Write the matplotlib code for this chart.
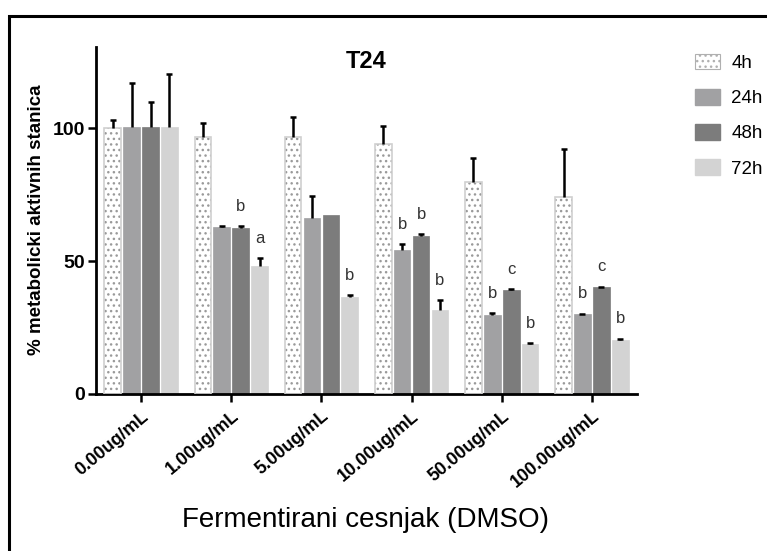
import matplotlib
matplotlib.use("Agg")
import matplotlib.pyplot as plt
from matplotlib.patches import Rectangle, Patch
import numpy as np

plt.rcParams["font.family"] = ["Liberation Sans", "DejaVu Sans"]
plt.rcParams["hatch.linewidth"] = 1.0

groups = ["0.00ug/mL", "1.00ug/mL", "5.00ug/mL", "10.00ug/mL", "50.00ug/mL", "100.00ug/mL"]
series = ["4h", "24h", "48h", "72h"]

h4 = [100.0, 96.5, 96.5, 94.2, 79.8, 74.1]
h4_err = [3.0, 5.5, 7.5, 6.5, 8.8, 18.0]
h24 = [100.5, 62.9, 66.3, 54.1, 29.7, 29.9]
h24_err = [16.5, 0.3, 8.1, 2.3, 0.6, 0.3]
h48 = [100.5, 62.5, 67.5, 59.4, 39.1, 40.1]
h48_err = [9.5, 0.5, 0.0, 0.6, 0.3, 0.2]
h72 = [100.5, 48.2, 36.3, 31.6, 18.7, 20.3]
h72_err = [20.0, 2.8, 0.9, 3.7, 0.3, 0.4]

letters4 = ["", "", "", "", "", ""]
letters24 = ["", "", "", "b", "b", "b"]
letters48 = ["", "b", "", "b", "c", "c"]
letters72 = ["", "a", "b", "b", "b", "b"]

values = [h4, h24, h48, h72]
errors = [h4_err, h24_err, h48_err, h72_err]
letters = [letters4, letters24, letters48, letters72]
colors = ["white", "#a1a1a3", "#7c7c7c", "#d3d3d3"]

fig = plt.figure(figsize=(7.67, 5.51), dpi=100)
ax = fig.add_axes([96 / 767, 157 / 551, 541 / 767, 347 / 551])

x = np.arange(len(groups))
pitch = 0.21
width = 0.185
offsets = (np.arange(len(series)) - 1.5) * pitch

for i, name in enumerate(series):
    xs = x + offsets[i]
    if i == 0:
        ax.bar(xs, values[i], width, color="white", edgecolor="#9a9a9a",
               hatch="...", linewidth=0, zorder=2)
        ax.bar(xs, values[i], width, color="none", edgecolor="#d0d0d0",
               linewidth=1.2, zorder=3)
    else:
        ax.bar(xs, values[i], width, color=colors[i], edgecolor=colors[i],
               linewidth=0.5, zorder=2)
    err = np.array(errors[i])
    keep = err > 0
    eb = ax.errorbar(xs[keep], np.array(values[i])[keep],
                     yerr=[np.zeros(keep.sum()), err[keep]],
                     fmt="none", ecolor="black", elinewidth=1.8,
                     capsize=2.5, capthick=1.8, zorder=4)
    eb[1][0].set_visible(False)
    for j, lab in enumerate(letters[i]):
        if lab:
            ax.annotate(lab, (xs[j], values[i][j] + errors[i][j]),
                        xytext=(0, 9), textcoords="offset points",
                        ha="center", va="bottom", fontsize=12, color="#333333")

ax.set_xlim(-0.5, len(groups) - 0.5)
ax.set_ylim(0, 130.5)
ax.set_yticks([0, 50, 100])
ax.set_xticks(x)
ax.set_xticklabels(groups, rotation=40, ha="right", rotation_mode="anchor",
                   fontsize=13, fontweight="bold")
for lab in ax.get_yticklabels():
    lab.set_fontweight("bold")
    lab.set_fontsize(14)
ax.tick_params(axis="both", length=6, width=1.8, pad=2)
ax.tick_params(axis="x", pad=4)
for s in ["top", "right"]:
    ax.spines[s].set_visible(False)
for s in ["left", "bottom"]:
    ax.spines[s].set_linewidth(2)

ax.text(np.mean(ax.get_xlim()), 125, "T24", ha="center", va="center",
        fontsize=17, fontweight="bold")

fig.text(37 / 767, 1 - 220 / 551, "% metabolicki aktivnih stanica", rotation=90,
         ha="center", va="center", fontsize=13.5, fontweight="bold")
fig.text(366 / 767, 1 - 520 / 551, "Fermentirani cesnjak (DMSO)",
         ha="center", va="center", fontsize=20)

handles = [
    Patch(facecolor="white", edgecolor="#b0b0b0", hatch="...", linewidth=0.8),
    Patch(facecolor=colors[1], edgecolor=colors[1]),
    Patch(facecolor=colors[2], edgecolor=colors[2]),
    Patch(facecolor=colors[3], edgecolor=colors[3]),
]
fig.legend(handles, series, loc="upper left", bbox_to_anchor=(678 / 767, 1 - 37 / 551),
           frameon=False, fontsize=13.5, handlelength=1.35, handleheight=0.9,
           handletextpad=0.6, labelspacing=0.9)

fig.add_artist(Rectangle((9 / 767, -0.1), 1.2, 1 - 16 / 551 + 0.1,
                         transform=fig.transFigure, fill=False,
                         edgecolor="black", linewidth=2.2))

fig.savefig("out.png", dpi=100)
